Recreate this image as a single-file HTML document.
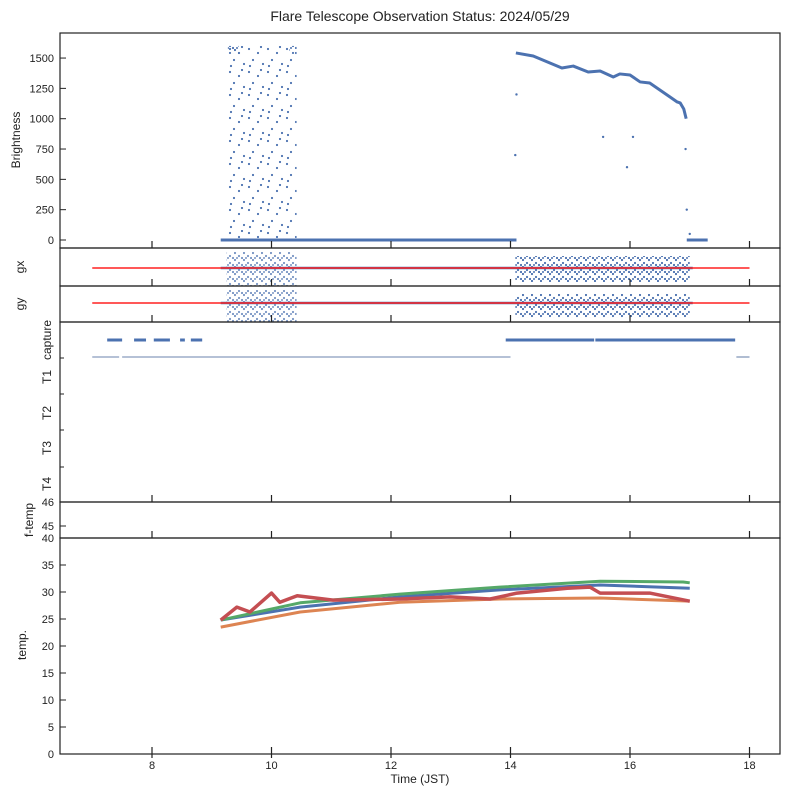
<!DOCTYPE html>
<html><head><meta charset="utf-8"><style>
body{margin:0;background:#fff}
svg{display:block;font-family:"Liberation Sans",sans-serif}
</style></head><body>
<svg id="c" width="789" height="798" xmlns="http://www.w3.org/2000/svg">
<defs>
<pattern id="dots" width="19" height="23" patternUnits="userSpaceOnUse">
<circle cx="2" cy="3" r="1.1" fill="#4c72b0"/><circle cx="11" cy="7" r="1.1" fill="#4c72b0"/><circle cx="6" cy="14" r="1.1" fill="#4c72b0"/><circle cx="16" cy="18" r="1.1" fill="#4c72b0"/><circle cx="14" cy="1" r="1.1" fill="#4c72b0"/><circle cx="3" cy="20" r="1.1" fill="#4c72b0"/>
</pattern>
<pattern id="dense" width="9" height="7" patternUnits="userSpaceOnUse">
<circle cx="1" cy="1" r="1.1" fill="#4c72b0"/><circle cx="5" cy="4" r="1.1" fill="#4c72b0"/><circle cx="8" cy="6" r="1.1" fill="#4c72b0"/><circle cx="3" cy="6" r="1" fill="#4c72b0"/>
</pattern>
</defs>
<text x="420" y="21" font-size="14" text-anchor="middle" fill="#222">Flare Telescope Observation Status: 2024/05/29</text>
<g id="g"></g>
</svg>
<script>
const xTicks=[8,10,12,14,16,18];
const brightTicks=[0,250,500,750,1000,1250,1500];
const tempTicks=[0,5,10,15,20,25,30,35,40];
const fTempTicks=[45,46];
const statusLabels=["capture","T1","T2","T3","T4"];
const brightHours=[14.09,14.38,14.66,14.86,15.05,15.30,15.50,15.72,15.83,16.0,16.17,16.33,16.5,16.67,16.79,16.84,16.9,16.94];
const brightVals=[1542,1517,1459,1418,1434,1385,1393,1344,1369,1360,1303,1294,1237,1179,1138,1130,1080,1000];
const captureOn=[[7.25,7.5],[7.7,7.9],[8.03,8.3],[8.47,8.55],[8.65,8.84],[13.92,15.4],[15.42,17.76]];
const t1On=[[7.0,7.45],[7.5,14.0],[17.78,18.0]];
const tempHours={blue:[9.15,10.48,12.15,13.82,15.5,17.0],green:[9.15,10.48,12.15,13.82,15.5,16.89,17.0],orange:[9.15,10.48,12.15,13.82,15.5,17.0],red:[9.15,9.42,9.64,10.0,10.14,10.43,11.03,12.15,12.99,13.66,14.11,14.95,15.33,15.5,16.33,17.0]};
const tempBlue=[24.8,27.2,29.1,30.4,31.3,30.7];
const tempGreen=[24.8,28.0,29.6,30.9,32.0,31.85,31.7];
const tempOrange=[23.5,26.3,28.1,28.7,28.9,28.3];
const tempRed=[24.8,27.2,26.3,29.8,28.1,29.3,28.5,28.7,29.1,28.7,29.8,30.7,30.9,29.8,29.8,28.3];

const L=60,R=780;
const X=h=>152+(h-8)*59.75;
const yB=v=>240-v*0.1213;
const yT=v=>754-v*5.4;
const yF=v=>526-(v-45)*24;
const g=document.getElementById('g');
const NS="http://www.w3.org/2000/svg";
function el(t,a,p){const e=document.createElementNS(NS,t);for(const k in a)e.setAttribute(k,a[k]);(p||g).appendChild(e);return e;}
function txt(s,a){const e=el('text',Object.assign({'font-size':11,fill:'#222'},a));e.textContent=s;return e;}

const panels=[["brightness-panel",33,248],["gx-panel",248,286],["gy-panel",286,322],["status-panel",322,502],["f-temp-panel",502,538],["temp-panel",538,754]];
let r=el('rect',{x:X(9.25),y:45,width:X(10.42)-X(9.25),height:195,fill:'url(#dots)'});


[[9.27,9.45],[10.3,10.42]].forEach(s=>{const q=el('rect',{x:X(s[0]),y:yB(1600),width:X(s[1])-X(s[0]),height:8,fill:'url(#dense)'});});
let z=el('line',{x1:X(9.15),x2:X(14.1),y1:yB(0),y2:yB(0),stroke:'#4c72b0','stroke-width':3});


el('line',{x1:X(16.95),x2:X(17.3),y1:yB(0),y2:yB(0),stroke:'#4c72b0','stroke-width':3});
let bp=el('polyline',{points:brightHours.map((h,i)=>X(h)+','+yB(brightVals[i])).join(' '),fill:'none',stroke:'#4c72b0','stroke-width':3,'stroke-linejoin':'round'});


[[14.08,700],[14.1,1200],[15.55,850],[15.95,600],[16.05,850],[16.93,750],[16.95,250],[17.0,50]].forEach(p=>el('circle',{cx:X(p[0]),cy:yB(p[1]),r:1.2,fill:'#4c72b0'}));
[[250,286,268,'gx'],[288,322,303,'gy']].forEach(a=>{
 const c1=el('rect',{x:X(9.25),y:a[0]+2,width:X(10.42)-X(9.25),height:a[1]-a[0]-2,fill:'url(#dense)',opacity:0.75});
 
 
 const c2=el('rect',{x:X(14.08),y:a[0]+6,width:X(17.0)-X(14.08),height:a[1]-a[0]-10,fill:'url(#dense)'});
 
 
 el('line',{x1:X(9.15),x2:X(17.05),y1:a[2],y2:a[2],stroke:'#4c72b0','stroke-width':2.5});
 const rl=el('line',{x1:X(7),x2:X(18),y1:a[2],y2:a[2],stroke:'#ff2020','stroke-width':1.6});
 
 
});
captureOn.forEach(s=>{const e=el('line',{x1:X(s[0]),x2:X(s[1]),y1:340,y2:340,stroke:'#4c72b0','stroke-width':3});});
t1On.forEach(s=>{const e=el('line',{x1:X(s[0]),x2:X(s[1]),y1:357,y2:357,stroke:'#3a5a90','stroke-width':0.8});});
[['blue',tempBlue,'#4c72b0',3],['green',tempGreen,'#55a868',3],['orange',tempOrange,'#dd8452',3],['red',tempRed,'#c44e52',3.5]].forEach(s=>{
 const e=el('polyline',{points:tempHours[s[0]].map((h,i)=>X(h)+','+yT(s[1][i])).join(' '),fill:'none',stroke:s[2],'stroke-width':s[3],'stroke-linejoin':'round'});
 
 
});
panels.forEach(p=>{
 const f=el('rect',{x:L,y:p[1],width:R-L,height:p[2]-p[1],fill:'none',stroke:'#222','stroke-width':1.2});
 
 
 xTicks.forEach(t=>el('line',{x1:X(t),x2:X(t),y1:p[2]-7,y2:p[2]+(p[2]===754?4:0),stroke:'#222','stroke-width':1.2}));
});
xTicks.forEach(t=>{const e=txt(String(t),{x:X(t),y:769,'text-anchor':'middle'});});
brightTicks.forEach(v=>{el('line',{x1:L,x2:L+6,y1:yB(v),y2:yB(v),stroke:'#222'});const e=txt(String(v),{x:54,y:yB(v)+4,'text-anchor':'end'});});
tempTicks.forEach(v=>{el('line',{x1:L,x2:L+6,y1:yT(v),y2:yT(v),stroke:'#222'});const e=txt(String(v),{x:54,y:yT(v)+4,'text-anchor':'end'});});
fTempTicks.forEach(v=>{el('line',{x1:L,x2:L+6,y1:yF(v),y2:yF(v),stroke:'#222'});const e=txt(String(v),{x:54,y:yF(v)+4,'text-anchor':'end'});});
[358,394,430,467].forEach(y=>el('line',{x1:L,x2:L+4,y1:y,y2:y,stroke:'#222'}));
const labY=[340,377,413,448,484];
statusLabels.forEach((s,i)=>{const e=txt(s,{transform:`translate(51,${labY[i]}) rotate(-90)`,'text-anchor':'middle','font-size':12});});
[["Brightness",20,140],["gx",24,267],["gy",24,304],["f-temp",33,520],["temp.",26,645]].forEach(a=>{const e=txt(a[0],{transform:`translate(${a[1]},${a[2]}) rotate(-90)`,'text-anchor':'middle','font-size':12});});
const xt=txt("Time (JST)",{x:420,y:783,'text-anchor':'middle','font-size':12});


</script>
</body></html>
